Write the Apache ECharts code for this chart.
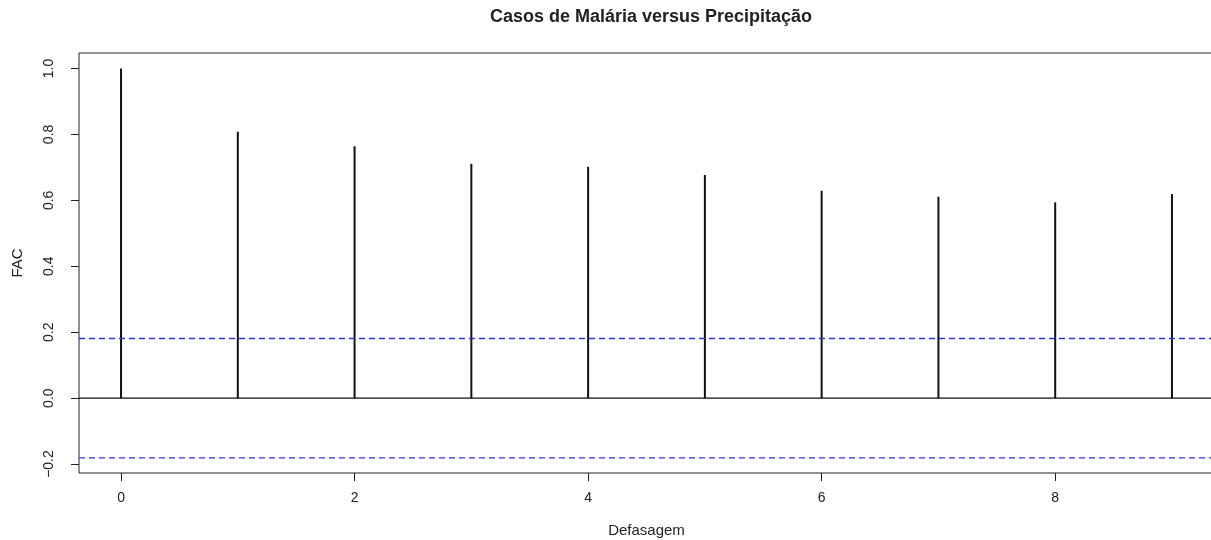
<!DOCTYPE html>
<html>
<head>
<meta charset="utf-8">
<script src="https://cdn.jsdelivr.net/npm/echarts@6/dist/echarts.min.js"></script>
<style>
  html, body { margin: 0; padding: 0; background: #fff; }
  #chart { width: 1211px; height: 540px; }
</style>
</head>
<body>
<div id="chart"></div>
<script>
// --- 数据 ---
const lags = [0, 1, 2, 3, 4, 5, 6, 7, 8, 9];
const fac = [1.0, 0.808, 0.764, 0.711, 0.702, 0.677, 0.629, 0.611, 0.594, 0.619];
const limite = 0.181;
const xMin = -0.36, xMax = 9.36;
const xTicks = [0, 2, 4, 6, 8];
const yTicks = [-0.2, 0, 0.2, 0.4, 0.6, 0.8, 1.0];

const txt = '#222';
const blue = '#2e2ef0';
const fontFam = 'Liberation Sans, Arial, sans-serif';

// --- 水平参考线 ---
function hLine(val, color, type) {
  return {
    type: 'line', data: [[xMin, val], [xMax, val]], silent: true,
    symbol: 'none', color: color,
    lineStyle: { color: color, width: 1.3, type: type },
    emphasis: { disabled: true },
  };
}

const chart = echarts.init(document.getElementById('chart'));

chart.setOption({
  animation: false,
  title: {
    text: 'Casos de Malária versus Precipitação',
    left: 646, top: 3, textAlign: 'center',
    textStyle: { fontFamily: fontFam, fontSize: 18, fontWeight: 'bold', color: txt },
  },
  grid: { left: 79, top: 53, width: 1135, height: 420, outerBoundsMode: 'none', containLabel: false,
    show: true, borderColor: '#222', borderWidth: 1 },
  xAxis: {
    type: 'value', min: xMin, max: xMax,
    name: 'Defasagem', nameLocation: 'middle', nameGap: 50,
    nameTextStyle: { fontFamily: fontFam, fontSize: 15, color: txt },
    axisLine: { show: false, onZero: false },
    axisTick: { show: true, length: 8, customValues: xTicks, lineStyle: { color: '#222' } },
    axisLabel: { customValues: xTicks, margin: 18, fontFamily: fontFam, fontSize: 14, color: txt },
    splitLine: { show: false },
  },
  yAxis: {
    type: 'value', min: -0.227, max: 1.047,
    name: 'FAC', nameLocation: 'middle', nameGap: 54, nameRotate: 90,
    nameTextStyle: { fontFamily: fontFam, fontSize: 15, color: txt },
    axisLine: { show: false, onZero: false },
    axisTick: { show: true, length: 8, customValues: yTicks, lineStyle: { color: '#222' } },
    axisLabel: { customValues: yTicks, rotate: 90, margin: 23, fontFamily: fontFam, fontSize: 14, color: txt,
      formatter: v => (v < 0 ? '\u2212' + Math.abs(v).toFixed(1) : v.toFixed(1)) },
    splitLine: { show: false },
  },
  series: [
    hLine(0, '#111', 'solid'),
    hLine(limite, blue, [6, 4]),
    hLine(-limite, blue, [6, 4]),
    { type: 'bar', data: lags.map((l, i) => [l, fac[i]]), barWidth: 2, itemStyle: { color: '#111' } },
  ],
});
</script>
</body>
</html>
